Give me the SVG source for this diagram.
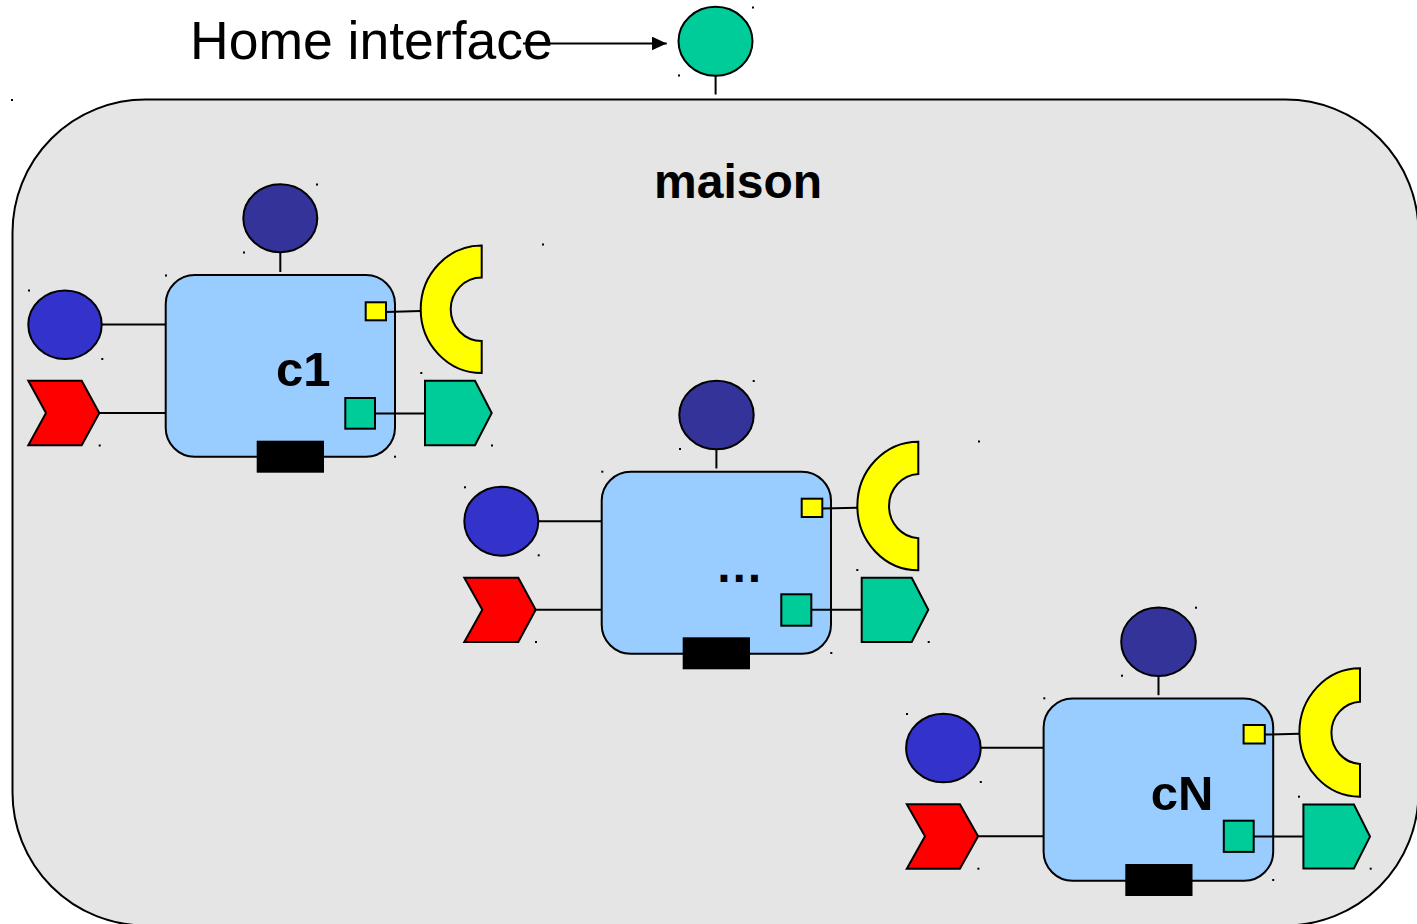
<svg xmlns="http://www.w3.org/2000/svg" width="1417" height="924" viewBox="0 0 1417 924">
<defs>
<style>
.container{fill:#E5E5E5;stroke:#000;stroke-width:2}
.box{fill:#99CCFF;stroke:#000;stroke-width:2}
.navy{fill:#333399;stroke:#000;stroke-width:2}
.blue{fill:#3333CC;stroke:#000;stroke-width:2}
.red{fill:#FF0000;stroke:#000;stroke-width:2}
.yellow{fill:#FFFF00;stroke:#000;stroke-width:2}
.green{fill:#00CC99;stroke:#000;stroke-width:2}
.port{fill:#000;stroke:none}
.wire{stroke:#000;stroke-width:2;fill:none}
.dot{fill:#000}
.lbl{font-family:"Liberation Sans",Arial,sans-serif;font-weight:bold;fill:#000}
.title{font-family:"Liberation Sans",Arial,sans-serif;fill:#000}
</style>
<marker id="arr" markerWidth="16" markerHeight="14" refX="15" refY="7" orient="auto" markerUnits="userSpaceOnUse">
<path d="M0,0 L15,7 L0,14 Z" fill="#000"/>
</marker>
</defs>

<g id="maison">
<rect class="container" x="12.5" y="99.5" width="1406" height="826" rx="133" ry="133"/>
<text class="lbl" x="654" y="198" font-size="48">maison</text>
</g>

<g id="home-interface-label">
<text class="title" x="190" y="58.5" font-size="53.5">Home interface</text>
</g>

<g id="home-interface">
<ellipse class="green" cx="715.5" cy="41.3" rx="37" ry="34.5"/>
</g>

<g id="c1">
<rect class="box" x="165.7" y="275" width="229.3" height="181.7" rx="29" ry="29"/>
<ellipse class="navy" cx="280.3" cy="218.2" rx="37" ry="34"/>
<ellipse class="blue" cx="65" cy="324.7" rx="36.7" ry="34.3"/>
<polygon class="red" points="28.3,380.7 81.7,380.7 99.3,413 81.7,445.3 28.3,445.3 46,413"/>
<rect class="yellow" x="365.7" y="302.3" width="20.3" height="18"/>
<path class="yellow" d="M481.7,245.5 A61,63.8 0 0 0 481.7,373.1 L481.7,341 A31,31.7 0 0 1 481.7,277.6 Z"/>
<rect class="green" x="345.3" y="398" width="29.7" height="30.7"/>
<polygon class="green" points="425,380.7 475,380.7 491.7,413 475,445.3 425,445.3"/>
<rect class="port" x="256.7" y="440.7" width="67.3" height="32"/>
<text class="lbl" x="276" y="386" font-size="49">c1</text>
</g>

<g id="c2">
<rect class="box" x="601.7" y="471.7" width="229.3" height="182" rx="29" ry="29"/>
<ellipse class="navy" cx="716.5" cy="415" rx="37.2" ry="34.3"/>
<ellipse class="blue" cx="501.3" cy="521.2" rx="37" ry="34.5"/>
<polygon class="red" points="464.3,577.7 518.3,577.7 535.7,609.7 518.3,642 464.3,642 482.3,609.7"/>
<rect class="yellow" x="801.7" y="498.7" width="20.6" height="18.3"/>
<path class="yellow" d="M918.3,441.7 A61,64.3 0 0 0 918.3,570.3 L918.3,538.3 A31,32.2 0 0 1 918.3,474 Z"/>
<rect class="green" x="781.3" y="594.3" width="30" height="31.4"/>
<polygon class="green" points="861.7,577.7 911.7,577.7 928.3,609.7 911.7,642 861.7,642"/>
<rect class="port" x="682.7" y="637.3" width="67.3" height="32"/>
<text class="lbl" x="715.3" y="581.5" font-size="48">…</text>
</g>

<g id="cN">
<rect class="box" x="1043.6" y="698.5" width="229.6" height="182.2" rx="29" ry="29"/>
<ellipse class="navy" cx="1158.5" cy="641.8" rx="37.3" ry="34.2"/>
<ellipse class="blue" cx="943.4" cy="748" rx="37.3" ry="34.3"/>
<polygon class="red" points="906.8,804.3 959.9,804.3 978.1,836.3 959.9,868.7 906.8,868.7 925,836.3"/>
<rect class="yellow" x="1243.6" y="725" width="21.2" height="18.5"/>
<path class="yellow" d="M1360,668.3 A60.6,64.2 0 0 0 1360,796.7 L1360,764 A30.3,31.2 0 0 1 1360,701.7 Z"/>
<rect class="green" x="1223.8" y="820.7" width="29.9" height="31.2"/>
<polygon class="green" points="1303.4,804.5 1353.9,804.5 1370,836.6 1353.9,868.5 1303.4,868.5"/>
<rect class="port" x="1125.3" y="864" width="67.2" height="32"/>
<text class="lbl" x="1150.7" y="809.5" font-size="49">cN</text>
</g>

<g id="connectors">
<line class="wire" x1="523" y1="43.5" x2="666.7" y2="43.5" marker-end="url(#arr)"/>
<line class="wire" x1="715.6" y1="76" x2="715.6" y2="94.5"/>
<line class="wire" x1="280.3" y1="252" x2="280.3" y2="272"/>
<line class="wire" x1="101.7" y1="324.5" x2="165.7" y2="324.5"/>
<line class="wire" x1="99.3" y1="413" x2="165.7" y2="413"/>
<line class="wire" x1="386" y1="312" x2="420.7" y2="311"/>
<line class="wire" x1="375" y1="413.5" x2="425" y2="413.5"/>
<line class="wire" x1="716.4" y1="449.3" x2="716.4" y2="468.5"/>
<line class="wire" x1="538.3" y1="521.3" x2="601.7" y2="521.3"/>
<line class="wire" x1="535.7" y1="609.7" x2="601.7" y2="609.7"/>
<line class="wire" x1="822.3" y1="508.5" x2="857.3" y2="507.7"/>
<line class="wire" x1="811.3" y1="609.7" x2="861.7" y2="609.7"/>
<line class="wire" x1="1158.5" y1="676" x2="1158.5" y2="695.2"/>
<line class="wire" x1="980.7" y1="747.8" x2="1043.6" y2="747.8"/>
<line class="wire" x1="978.1" y1="836.3" x2="1043.6" y2="836.3"/>
<line class="wire" x1="1264.8" y1="734.6" x2="1299.4" y2="733.8"/>
<line class="wire" x1="1253.7" y1="836.6" x2="1303.4" y2="836.6"/>
</g>

<g id="marks">
<rect class="dot" x="11" y="99" width="2" height="2"/>
<rect class="dot" x="752" y="6.5" width="2" height="2"/>
<rect class="dot" x="678" y="74.5" width="2" height="2"/>
<rect class="dot" x="542" y="243.5" width="2" height="2"/>
<rect class="dot" x="978" y="440.5" width="2" height="2"/>
<rect class="dot" x="316" y="183.5" width="2" height="2"/>
<rect class="dot" x="243" y="251.5" width="2" height="2"/>
<rect class="dot" x="165" y="274.5" width="2" height="2"/>
<rect class="dot" x="28" y="289.5" width="2" height="2"/>
<rect class="dot" x="101.3" y="358" width="2" height="2"/>
<rect class="dot" x="98.7" y="444.5" width="2" height="2"/>
<rect class="dot" x="394" y="455.7" width="2" height="2"/>
<rect class="dot" x="420.3" y="372" width="2" height="2"/>
<rect class="dot" x="491" y="444.5" width="2" height="2"/>
<rect class="dot" x="752.7" y="380" width="2" height="2"/>
<rect class="dot" x="679" y="448" width="2" height="2"/>
<rect class="dot" x="601.3" y="470.7" width="2" height="2"/>
<rect class="dot" x="464" y="486.3" width="2" height="2"/>
<rect class="dot" x="537.7" y="554.3" width="2" height="2"/>
<rect class="dot" x="535" y="641" width="2" height="2"/>
<rect class="dot" x="830.3" y="652" width="2" height="2"/>
<rect class="dot" x="856.3" y="569" width="2" height="2"/>
<rect class="dot" x="927.7" y="641" width="2" height="2"/>
<rect class="dot" x="1195" y="606.7" width="2" height="2"/>
<rect class="dot" x="1121" y="674.7" width="2" height="2"/>
<rect class="dot" x="1043.3" y="697.3" width="2" height="2"/>
<rect class="dot" x="906" y="713" width="2" height="2"/>
<rect class="dot" x="979.8" y="781" width="2" height="2"/>
<rect class="dot" x="977.4" y="867.7" width="2" height="2"/>
<rect class="dot" x="1272.2" y="879" width="2" height="2"/>
<rect class="dot" x="1298" y="795.7" width="2" height="2"/>
<rect class="dot" x="1369.7" y="867.7" width="2" height="2"/>
</g>
</svg>
